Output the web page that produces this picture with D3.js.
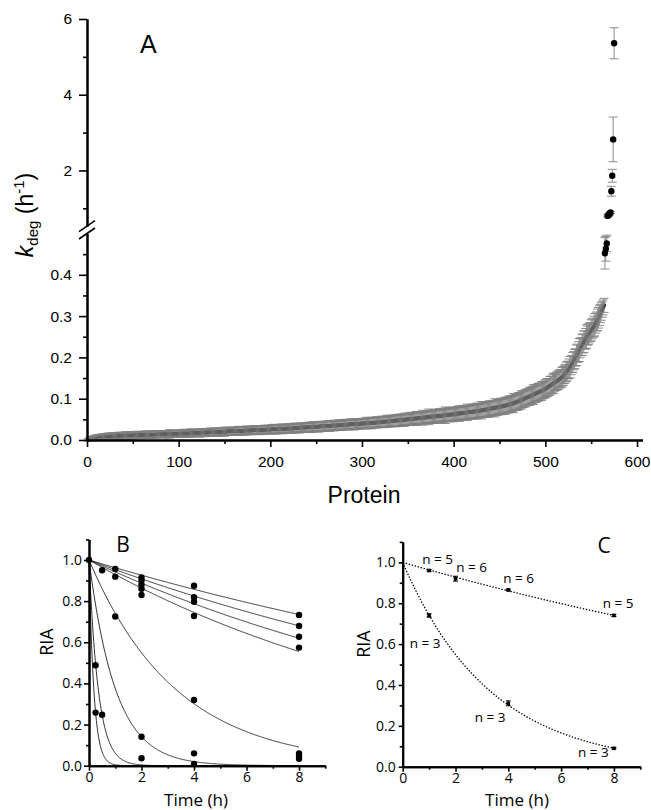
<!DOCTYPE html>
<html>
<head>
<meta charset="utf-8">
<script src="https://cdn.jsdelivr.net/npm/d3@7"></script>
<style>
body{margin:0;background:#fff;}
svg{display:block;}
.axA text{font-family:"Liberation Sans",Arial,sans-serif;font-size:15.5px;fill:#000;}
.axBC text{font-family:"Open Sans",sans-serif;font-size:14px;fill:#000;}
.domain{stroke:#000;stroke-width:2;}
.tick line{stroke:#000;stroke-width:1.6;}
</style>
</head>
<body>
<svg id="fig" width="651" height="810"></svg>
<script>
// panel A: kdeg per protein, ranked (index+1 = protein)
var kdeg = [
0.000,0.001,0.002,0.003,0.004,0.004,0.005,0.005,0.006,0.006,0.006,0.007,0.007,0.007,0.007,0.008,0.008,0.008,0.008,0.008,
0.008,0.008,0.009,0.009,0.009,0.009,0.009,0.009,0.009,0.009,0.010,0.010,0.010,0.010,0.010,0.010,0.010,0.010,0.010,0.011,
0.011,0.011,0.011,0.011,0.011,0.011,0.011,0.011,0.011,0.011,0.012,0.012,0.012,0.012,0.012,0.012,0.012,0.012,0.012,0.012,
0.012,0.012,0.013,0.013,0.013,0.013,0.013,0.013,0.013,0.013,0.013,0.013,0.013,0.013,0.013,0.014,0.014,0.014,0.014,0.014,
0.014,0.014,0.014,0.014,0.014,0.014,0.014,0.014,0.015,0.015,0.015,0.015,0.015,0.015,0.015,0.015,0.015,0.015,0.015,0.015,
0.015,0.016,0.016,0.016,0.016,0.016,0.016,0.016,0.016,0.016,0.016,0.016,0.017,0.017,0.017,0.017,0.017,0.017,0.017,0.017,
0.017,0.017,0.017,0.018,0.018,0.018,0.018,0.018,0.018,0.018,0.018,0.018,0.018,0.019,0.019,0.019,0.019,0.019,0.019,0.019,
0.019,0.019,0.019,0.020,0.020,0.020,0.020,0.020,0.020,0.020,0.020,0.020,0.021,0.021,0.021,0.021,0.021,0.021,0.021,0.021,
0.021,0.021,0.022,0.022,0.022,0.022,0.022,0.022,0.022,0.022,0.022,0.023,0.023,0.023,0.023,0.023,0.023,0.023,0.023,0.023,
0.024,0.024,0.024,0.024,0.024,0.024,0.024,0.024,0.024,0.024,0.025,0.025,0.025,0.025,0.025,0.025,0.025,0.025,0.025,0.025,
0.026,0.026,0.026,0.026,0.026,0.026,0.026,0.026,0.026,0.027,0.027,0.027,0.027,0.027,0.027,0.027,0.027,0.028,0.028,0.028,
0.028,0.028,0.028,0.028,0.028,0.029,0.029,0.029,0.029,0.029,0.029,0.029,0.030,0.030,0.030,0.030,0.030,0.030,0.030,0.031,
0.031,0.031,0.031,0.031,0.031,0.031,0.032,0.032,0.032,0.032,0.032,0.032,0.032,0.033,0.033,0.033,0.033,0.033,0.033,0.034,
0.034,0.034,0.034,0.034,0.034,0.034,0.035,0.035,0.035,0.035,0.035,0.035,0.035,0.036,0.036,0.036,0.036,0.036,0.036,0.037,
0.037,0.037,0.037,0.037,0.037,0.038,0.038,0.038,0.038,0.038,0.038,0.038,0.039,0.039,0.039,0.039,0.039,0.039,0.040,0.040,
0.040,0.040,0.040,0.040,0.041,0.041,0.041,0.041,0.041,0.041,0.042,0.042,0.042,0.042,0.042,0.043,0.043,0.043,0.043,0.043,
0.044,0.044,0.044,0.044,0.044,0.045,0.045,0.045,0.045,0.045,0.046,0.046,0.046,0.046,0.046,0.047,0.047,0.047,0.047,0.047,
0.048,0.048,0.048,0.048,0.049,0.049,0.049,0.049,0.050,0.050,0.050,0.050,0.051,0.051,0.051,0.051,0.052,0.052,0.052,0.052,
0.053,0.053,0.053,0.053,0.054,0.054,0.054,0.054,0.055,0.055,0.055,0.055,0.056,0.056,0.056,0.056,0.057,0.057,0.057,0.057,
0.058,0.058,0.058,0.058,0.059,0.059,0.059,0.059,0.060,0.060,0.060,0.060,0.061,0.061,0.061,0.061,0.062,0.062,0.062,0.062,
0.063,0.063,0.063,0.064,0.064,0.064,0.064,0.065,0.065,0.065,0.066,0.066,0.066,0.066,0.067,0.067,0.067,0.068,0.068,0.068,
0.069,0.069,0.069,0.070,0.070,0.070,0.071,0.071,0.071,0.072,0.072,0.072,0.073,0.073,0.074,0.074,0.074,0.075,0.075,0.076,
0.076,0.077,0.077,0.077,0.078,0.078,0.079,0.079,0.080,0.080,0.081,0.081,0.082,0.082,0.083,0.083,0.084,0.084,0.085,0.086,
0.086,0.087,0.088,0.088,0.089,0.090,0.091,0.091,0.092,0.093,0.094,0.095,0.096,0.097,0.098,0.099,0.100,0.101,0.102,0.103,
0.104,0.105,0.106,0.107,0.108,0.109,0.110,0.111,0.112,0.113,0.114,0.115,0.116,0.117,0.118,0.119,0.120,0.121,0.122,0.124,
0.125,0.127,0.128,0.130,0.131,0.133,0.134,0.136,0.137,0.139,0.140,0.142,0.143,0.145,0.146,0.148,0.150,0.152,0.154,0.157,
0.159,0.162,0.165,0.167,0.170,0.173,0.176,0.180,0.184,0.188,0.192,0.196,0.200,0.205,0.210,0.214,0.218,0.222,0.226,0.230,
0.234,0.238,0.242,0.246,0.250,0.253,0.256,0.259,0.262,0.265,0.269,0.272,0.275,0.279,0.283,0.287,0.291,0.296,0.301,0.306,0.311,0.316,0.321,0.326,
0.452,0.463,0.476,0.80,0.82,0.85,0.89,1.45,1.86,2.82,5.36
];
var kdegErr = [
0.002,0.003,0.003,0.004,0.004,0.005,0.004,0.005,0.005,0.006,0.005,0.006,0.005,0.006,0.007,0.006,0.005,0.007,0.006,0.007,
0.006,0.007,0.008,0.006,0.007,0.008,0.007,0.006,0.008,0.007,0.008,0.007,0.006,0.008,0.009,0.007,0.008,0.007,0.006,0.008,
0.007,0.008,0.009,0.007,0.008,0.006,0.008,0.007,0.009,0.008,0.007,0.008,0.009,0.007,0.008,0.006,0.008,0.009,0.007,0.008,
0.008,0.007,0.009,0.008,0.007,0.008,0.006,0.009,0.008,0.007,0.008,0.009,0.007,0.008,0.008,0.009,0.007,0.008,0.006,0.008,
0.008,0.009,0.007,0.008,0.009,0.008,0.007,0.009,0.008,0.010,0.008,0.007,0.009,0.008,0.009,0.007,0.008,0.009,0.008,0.007,
0.009,0.008,0.007,0.009,0.008,0.010,0.008,0.009,0.007,0.008,0.009,0.008,0.010,0.007,0.009,0.008,0.009,0.008,0.007,0.009,
0.008,0.009,0.010,0.008,0.007,0.009,0.008,0.009,0.010,0.008,0.009,0.007,0.008,0.009,0.010,0.008,0.009,0.008,0.010,0.009,
0.009,0.008,0.010,0.009,0.008,0.009,0.010,0.008,0.009,0.011,0.008,0.009,0.010,0.009,0.008,0.010,0.009,0.008,0.010,0.009,
0.010,0.009,0.008,0.010,0.009,0.011,0.009,0.008,0.010,0.009,0.010,0.008,0.009,0.011,0.009,0.010,0.009,0.010,0.008,0.010,
0.009,0.010,0.011,0.009,0.010,0.008,0.010,0.009,0.011,0.010,0.009,0.010,0.008,0.011,0.010,0.009,0.010,0.011,0.009,0.010,
0.010,0.011,0.009,0.010,0.012,0.010,0.009,0.011,0.010,0.009,0.011,0.010,0.012,0.009,0.010,0.011,0.010,0.009,0.011,0.010,
0.011,0.010,0.012,0.009,0.011,0.010,0.012,0.011,0.010,0.009,0.011,0.012,0.010,0.011,0.009,0.010,0.012,0.011,0.010,0.011,
0.010,0.012,0.011,0.010,0.013,0.011,0.010,0.012,0.011,0.010,0.012,0.011,0.013,0.010,0.011,0.012,0.010,0.011,0.012,0.011,
0.012,0.011,0.010,0.012,0.013,0.011,0.012,0.010,0.011,0.013,0.012,0.011,0.010,0.012,0.011,0.013,0.012,0.010,0.011,0.012,
0.011,0.013,0.012,0.011,0.012,0.010,0.013,0.012,0.011,0.012,0.014,0.011,0.012,0.013,0.011,0.012,0.010,0.013,0.012,0.011,
0.012,0.013,0.011,0.012,0.014,0.012,0.011,0.013,0.012,0.014,0.011,0.012,0.013,0.012,0.011,0.014,0.012,0.013,0.011,0.012,
0.013,0.012,0.014,0.011,0.013,0.012,0.015,0.012,0.013,0.011,0.014,0.013,0.012,0.014,0.013,0.012,0.015,0.013,0.012,0.014,
0.013,0.015,0.012,0.014,0.013,0.016,0.012,0.014,0.013,0.015,0.013,0.012,0.016,0.014,0.013,0.015,0.012,0.014,0.017,0.013,
0.014,0.016,0.013,0.015,0.014,0.018,0.013,0.015,0.014,0.016,0.013,0.015,0.019,0.014,0.016,0.013,0.015,0.014,0.017,0.015,
0.014,0.016,0.015,0.018,0.014,0.016,0.015,0.013,0.017,0.015,0.020,0.014,0.016,0.015,0.017,0.014,0.016,0.015,0.018,0.015,
0.016,0.014,0.017,0.015,0.016,0.019,0.015,0.017,0.014,0.016,0.018,0.015,0.017,0.016,0.020,0.015,0.017,0.016,0.015,0.018,
0.016,0.018,0.015,0.017,0.019,0.016,0.018,0.015,0.017,0.021,0.016,0.018,0.017,0.016,0.019,0.017,0.018,0.016,0.020,0.017,
0.018,0.016,0.019,0.017,0.022,0.018,0.017,0.019,0.016,0.018,0.020,0.017,0.019,0.018,0.017,0.021,0.018,0.019,0.017,0.020,
0.018,0.020,0.017,0.019,0.023,0.018,0.020,0.019,0.018,0.021,0.019,0.020,0.018,0.022,0.019,0.020,0.018,0.021,0.019,0.020,
0.020,0.019,0.022,0.020,0.018,0.021,0.024,0.019,0.021,0.020,0.019,0.022,0.020,0.021,0.019,0.023,0.020,0.021,0.019,0.022,
0.020,0.022,0.021,0.019,0.023,0.021,0.020,0.022,0.025,0.021,0.020,0.022,0.021,0.023,0.020,0.022,0.021,0.024,0.022,0.021,
0.022,0.021,0.024,0.022,0.021,0.023,0.026,0.022,0.021,0.024,0.022,0.023,0.021,0.025,0.022,0.024,0.028,0.023,0.022,0.025,
0.023,0.026,0.022,0.024,0.029,0.023,0.025,0.024,0.022,0.026,0.024,0.023,0.025,0.027,0.024,0.023,0.026,0.025,0.024,0.022,0.021,0.019,0.018,0.017,
0.038,0.030,0.020,0.030,0.025,0.030,0.030,0.13,0.17,0.59,0.41
];
var proteinTicks = [0,100,200,300,400,500,600];
var proteinMinor = [50,150,250,350,450,550];
var kLowTicks = [0,0.1,0.2,0.3,0.4];
var kLowMinor = [0.05,0.15,0.25,0.35,0.45];
var kUpTicks = [2,4,6];
var kUpMinor = [1,3,5];

// panel B: individual proteins, relative isotope abundance
var bTime = [0, 0.25,0.25, 0.5,0.5, 1,1,1, 2,2,2,2,2,2,2, 4,4,4,4,4,4,4, 8,8,8,8,8,8,8];
var bRIA = [1.0, 0.488,0.258, 0.95,0.248, 0.956,0.919,0.725,
  0.915,0.90,0.88,0.86,0.83,0.141,0.036,
  0.875,0.819,0.797,0.728,0.319,0.06,0.008,
  0.733,0.679,0.627,0.574,0.06,0.047,0.034];
var bFitK = [0.0385,0.0482,0.0598,0.0736,0.30,0.98,2.8,5.4];

// panel C: averaged proteins
var cTimeSlow = [1,2,4,8];
var cRIASlow = [0.96,0.92,0.865,0.74];
var cErrSlow = [0.004,0.012,0.004,0.005];
var cTimeFast = [1,4,8];
var cRIAFast = [0.74,0.31,0.09];
var cErrFast = [0.008,0.012,0.004];
var cFitK = [0.0376,0.30];
var cLabelText = ["n = 5","n = 6","n = 6","n = 5","n = 3","n = 3","n = 3"];
var cLabelT = [1.32,2.61,4.39,8.16,0.85,3.31,7.22];
var cLabelRIA = [0.992,0.954,0.897,0.775,0.579,0.22,0.049];

var timeTicks = [0,2,4,6,8];
var timeMinor = [1,3,5,7,9];
var riaTicks = [0,0.2,0.4,0.6,0.8,1.0];
var riaMinor = [0.1,0.3,0.5,0.7,0.9,1.1];

var svg = d3.select("#fig");

// ---------- A ----------
var xA = d3.scaleLinear().domain([0,606]).range([87,642.5]);
var yLow = d3.scaleLinear().domain([0,0.5]).range([440,233.5]);
var yUp = d3.scaleLinear().domain([0.53,6]).range([226.1,19]);
function yA(v, seg){ return seg ? yUp(v) : yLow(Math.min(v,0.5)); }

var ptsA = kdeg.map(function(v,i){ return {p:i+1, v:v, e:kdegErr[i], up:v>=0.5}; });
var denseA = ptsA.filter(function(d){ return d.v <= 0.4; });
var outA = ptsA.filter(function(d){ return d.v > 0.4; });

var gA = svg.append("g");

// dense markers sit under the grey error bars
gA.append("g").selectAll("circle").data(denseA).enter().append("circle")
  .attr("cx",function(d){return xA(d.p);})
  .attr("cy",function(d){return yA(d.v,d.up);})
  .attr("r",2).attr("fill","#000");

var eb = gA.append("g").attr("stroke","#808080").attr("stroke-width",0.9);
eb.selectAll(".v").data(ptsA).enter().append("line")
  .attr("x1",function(d){return xA(d.p);}).attr("x2",function(d){return xA(d.p);})
  .attr("y1",function(d){return yA(d.v-d.e,d.up);}).attr("y2",function(d){return yA(d.v+d.e,d.up);});
eb.selectAll(".t").data(ptsA).enter().append("line")
  .attr("x1",function(d){return xA(d.p)-4.5;}).attr("x2",function(d){return xA(d.p)+4.5;})
  .attr("y1",function(d){return yA(d.v+d.e,d.up);}).attr("y2",function(d){return yA(d.v+d.e,d.up);});
eb.selectAll(".b").data(ptsA).enter().append("line")
  .attr("x1",function(d){return xA(d.p)-4.5;}).attr("x2",function(d){return xA(d.p)+4.5;})
  .attr("y1",function(d){return yA(d.v-d.e,d.up);}).attr("y2",function(d){return yA(d.v-d.e,d.up);});

gA.append("g").selectAll("circle").data(outA).enter().append("circle")
  .attr("cx",function(d){return xA(d.p);})
  .attr("cy",function(d){return yA(d.v,d.up);})
  .attr("r",3.2).attr("fill","#000");

gA.append("g").attr("class","axA").attr("transform","translate(0,440)")
  .call(d3.axisBottom(xA).tickValues(proteinTicks).tickSize(7).tickPadding(9).tickSizeOuter(0));
gA.append("g").attr("class","axA").attr("transform","translate(0,440)")
  .call(d3.axisBottom(xA).tickValues(proteinMinor).tickSize(4).tickFormat("").tickSizeOuter(0));
gA.append("g").attr("class","axA").attr("transform","translate(87,0)")
  .call(d3.axisLeft(yLow).tickValues(kLowTicks).tickFormat(d3.format(".1f")).tickSize(8).tickPadding(7).tickSizeOuter(0));
gA.append("g").attr("class","axA").attr("transform","translate(87,0)")
  .call(d3.axisLeft(yLow).tickValues(kLowMinor).tickFormat("").tickSize(4).tickSizeOuter(0));
gA.append("g").attr("class","axA").attr("transform","translate(87,0)")
  .call(d3.axisLeft(yUp).tickValues(kUpTicks).tickFormat(d3.format("d")).tickSize(8).tickPadding(7).tickSizeOuter(0));
gA.append("g").attr("class","axA").attr("transform","translate(87,0)")
  .call(d3.axisLeft(yUp).tickValues(kUpMinor).tickFormat("").tickSize(4).tickSizeOuter(0));

// axis break marks
var yb1 = yUp.range()[0], yb2 = yLow.range()[1];
[yb1, yb2].forEach(function(yb){
  gA.append("line").attr("x1",79).attr("y1",yb+5.5).attr("x2",95).attr("y2",yb-5.5)
    .attr("stroke","#000").attr("stroke-width",1.6);
});

gA.append("text").attr("x",140).attr("y",52.5)
  .style("font-family","Liberation Sans, Arial, sans-serif").style("font-size","25px").text("A");

gA.append("text").attr("x",364).attr("y",503).attr("text-anchor","middle")
  .style("font-family","Liberation Sans, Arial, sans-serif").style("font-size","23px").text("Protein");

var yt = gA.append("text").attr("transform","translate(33,215) rotate(-90)").attr("text-anchor","middle")
  .style("font-family","Liberation Sans, Arial, sans-serif").style("font-size","23px");
yt.append("tspan").style("font-style","italic").text("k");
yt.append("tspan").attr("dy",5).style("font-size","15px").text("deg");
yt.append("tspan").attr("dy",-5).text(" (h");
yt.append("tspan").attr("dy",-9).style("font-size","15px").text("-1");
yt.append("tspan").attr("dy",9).text(")");

// ---------- B ----------
var xB = d3.scaleLinear().domain([0,9]).range([89,325.3]);
var yB = d3.scaleLinear().domain([0,1.1]).range([765.7,539.4]);
var tGrid = d3.range(0,8.001,0.02);
var gB = svg.append("g");

gB.append("g").selectAll("path").data(bFitK).enter().append("path")
  .attr("d",function(k){ return d3.line().x(function(t){return xB(t);}).y(function(t){return yB(Math.exp(-k*t));})(tGrid); })
  .attr("fill","none").attr("stroke","#1a1a1a").attr("stroke-width",0.9);

gB.append("g").selectAll("circle").data(bTime).enter().append("circle")
  .attr("cx",function(t){return xB(t);})
  .attr("cy",function(t,i){return yB(bRIA[i]);})
  .attr("r",3.2).attr("fill","#000");

gB.append("g").attr("class","axBC").attr("transform","translate(0,765.7)")
  .call(d3.axisBottom(xB).tickValues(timeTicks).tickSize(5).tickPadding(1).tickSizeOuter(0));
gB.append("g").attr("class","axBC").attr("transform","translate(0,765.7)")
  .call(d3.axisBottom(xB).tickValues(timeMinor).tickSize(3).tickFormat("").tickSizeOuter(0));
gB.append("g").attr("class","axBC").attr("transform","translate(89,0)")
  .call(d3.axisLeft(yB).tickValues(riaTicks).tickFormat(d3.format(".1f")).tickSize(5).tickPadding(2).tickSizeOuter(0));
gB.append("g").attr("class","axBC").attr("transform","translate(89,0)")
  .call(d3.axisLeft(yB).tickValues(riaMinor).tickFormat("").tickSize(3).tickSizeOuter(0));

gB.append("text").attr("x",123).attr("y",552).attr("text-anchor","middle")
  .style("font-family","Open Sans, sans-serif").style("font-size","21px").text("B");
gB.append("text").attr("x",196).attr("y",805.5).attr("text-anchor","middle")
  .style("font-family","Open Sans, sans-serif").style("font-size","17px").text("Time (h)");
gB.append("text").attr("transform","translate(53,642) rotate(-90)").attr("text-anchor","middle")
  .style("font-family","Open Sans, sans-serif").style("font-size","18px").text("RIA");

// ---------- C ----------
var xC = d3.scaleLinear().domain([0,9]).range([402.7,640.3]);
var yC = d3.scaleLinear().domain([0,1.1]).range([766.7,541.9]);
var gC = svg.append("g");

gC.append("g").selectAll("path").data(cFitK).enter().append("path")
  .attr("d",function(k){ return d3.line().x(function(t){return xC(t);}).y(function(t){return yC(Math.exp(-k*t));})(tGrid); })
  .attr("fill","none").attr("stroke","#000").attr("stroke-width",1.3).attr("stroke-dasharray","1.4,1.7");

var ptsC = cTimeSlow.map(function(t,i){return {t:t, r:cRIASlow[i], e:cErrSlow[i]};})
  .concat(cTimeFast.map(function(t,i){return {t:t, r:cRIAFast[i], e:cErrFast[i]};}));
var ebC = gC.append("g").attr("stroke","#000").attr("stroke-width",1);
ebC.selectAll(".v").data(ptsC).enter().append("line")
  .attr("x1",function(d){return xC(d.t);}).attr("x2",function(d){return xC(d.t);})
  .attr("y1",function(d){return yC(d.r-d.e);}).attr("y2",function(d){return yC(d.r+d.e);});
ebC.selectAll(".t").data(ptsC).enter().append("line")
  .attr("x1",function(d){return xC(d.t)-2.5;}).attr("x2",function(d){return xC(d.t)+2.5;})
  .attr("y1",function(d){return yC(d.r+d.e);}).attr("y2",function(d){return yC(d.r+d.e);});
ebC.selectAll(".b").data(ptsC).enter().append("line")
  .attr("x1",function(d){return xC(d.t)-2.5;}).attr("x2",function(d){return xC(d.t)+2.5;})
  .attr("y1",function(d){return yC(d.r-d.e);}).attr("y2",function(d){return yC(d.r-d.e);});
gC.append("g").selectAll("rect").data(ptsC).enter().append("rect")
  .attr("x",function(d){return xC(d.t)-1.8;}).attr("y",function(d){return yC(d.r)-1.8;})
  .attr("width",3.6).attr("height",3.6).attr("fill","#000");

gC.append("g").selectAll("text").data(cLabelText).enter().append("text")
  .attr("x",function(d,i){return xC(cLabelT[i]);})
  .attr("y",function(d,i){return yC(cLabelRIA[i]);})
  .attr("text-anchor","middle")
  .style("font-family","Open Sans, sans-serif").style("font-size","13.5px")
  .text(function(d){return d;});

gC.append("g").attr("class","axBC").attr("transform","translate(0,766.7)")
  .call(d3.axisBottom(xC).tickValues(timeTicks).tickSize(5).tickPadding(1).tickSizeOuter(0));
gC.append("g").attr("class","axBC").attr("transform","translate(0,766.7)")
  .call(d3.axisBottom(xC).tickValues(timeMinor).tickSize(3).tickFormat("").tickSizeOuter(0));
gC.append("g").attr("class","axBC").attr("transform","translate(402.7,0)")
  .call(d3.axisLeft(yC).tickValues(riaTicks).tickFormat(d3.format(".1f")).tickSize(4).tickPadding(3).tickSizeOuter(0));
gC.append("g").attr("class","axBC").attr("transform","translate(402.7,0)")
  .call(d3.axisLeft(yC).tickValues(riaMinor).tickFormat("").tickSize(3).tickSizeOuter(0));

gC.append("text").attr("x",604).attr("y",553).attr("text-anchor","middle")
  .style("font-family","Open Sans, sans-serif").style("font-size","21px").text("C");
gC.append("text").attr("x",517).attr("y",805.5).attr("text-anchor","middle")
  .style("font-family","Open Sans, sans-serif").style("font-size","17px").text("Time (h)");
gC.append("text").attr("transform","translate(370,644) rotate(-90)").attr("text-anchor","middle")
  .style("font-family","Open Sans, sans-serif").style("font-size","18px").text("RIA");
</script>
</body>
</html>
